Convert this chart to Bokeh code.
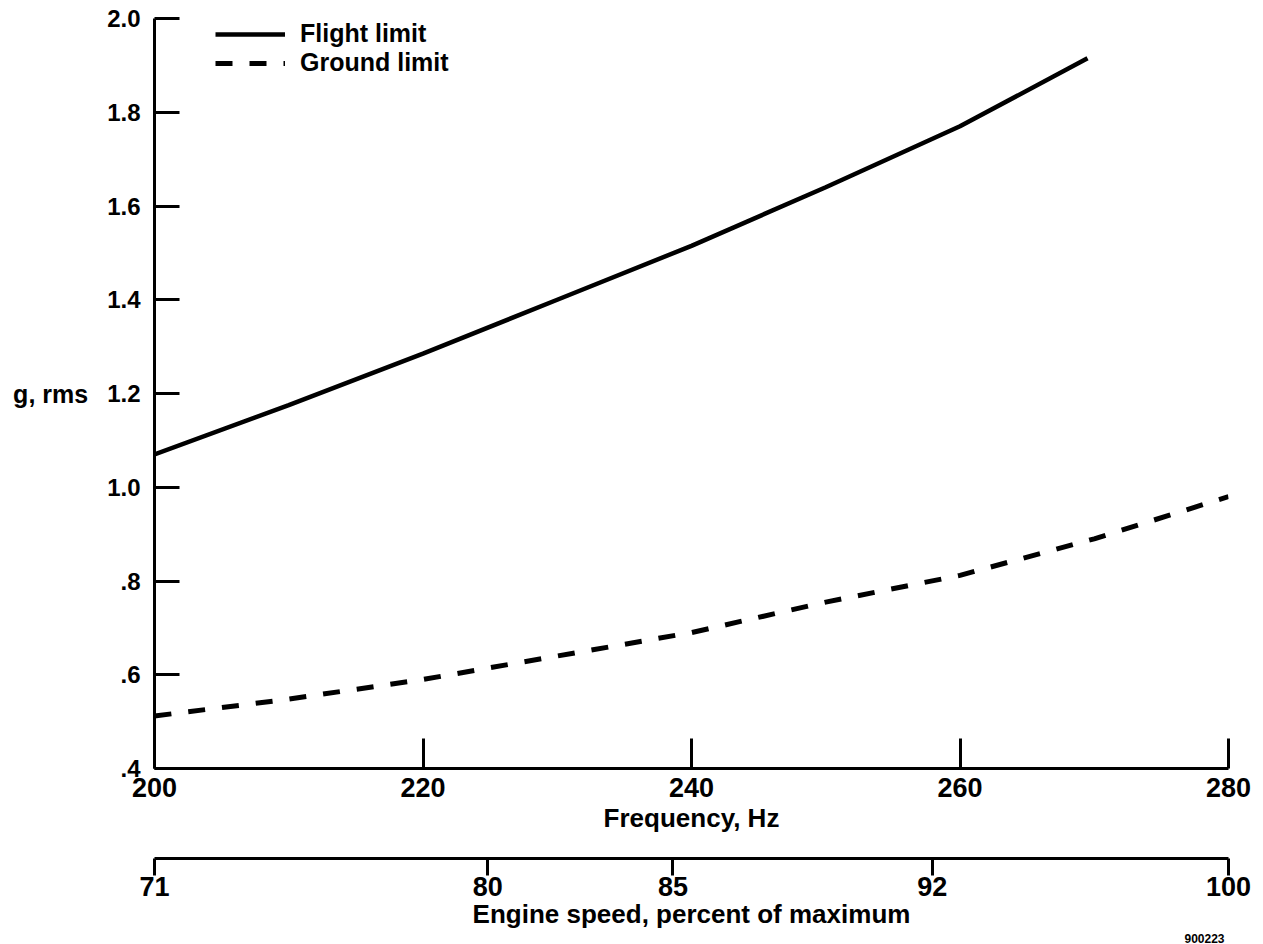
from bokeh.plotting import figure
from bokeh.models import Range1d, LinearAxis, FixedTicker, Legend, LegendItem, Title
from bokeh.embed import file_html
from bokeh.resources import INLINE

# ---- data ----
flight_freq = [200, 210, 220, 230, 240, 250, 260, 269.5]
flight_g = [1.07, 1.175, 1.285, 1.40, 1.515, 1.64, 1.77, 1.915]

ground_freq = [200, 210, 220, 230, 240, 250, 260, 270, 280]
ground_g = [0.512, 0.548, 0.59, 0.64, 0.69, 0.755, 0.812, 0.89, 0.98]

freq_ticks = [200, 220, 240, 260, 280]
g_ticks = [0.4, 0.6, 0.8, 1.0, 1.2, 1.4, 1.6, 1.8, 2.0]
g_tick_labels = [".4", ".6", ".8", "1.0", "1.2", "1.4", "1.6", "1.8", "2.0"]
speed_ticks = [71, 80, 85, 92, 100]
speed_tick_labels = ["71", "80", "85", "92", "100"]

FONT = "Liberation Sans"

p = figure(width=1253, height=944,
           x_range=Range1d(200, 280), y_range=Range1d(0.4, 2.0),
           x_axis_type=None, y_axis_type=None,
           output_backend="svg", toolbar_location=None,
           min_border_left=154, min_border_right=25, min_border_top=18, min_border_bottom=176)
p.extra_x_ranges = {"speed": Range1d(71, 100)}
p.outline_line_color = None
p.background_fill_color = "white"
p.border_fill_color = "white"


def style(ax, tick_size="24px", label_size="26px"):
    ax.axis_line_width = 3
    ax.axis_line_color = "black"
    ax.major_tick_line_width = 3
    ax.major_tick_line_color = "black"
    ax.minor_tick_line_color = None
    ax.major_label_text_font = FONT
    ax.major_label_text_font_style = "bold"
    ax.major_label_text_font_size = tick_size
    ax.major_label_text_color = "black"
    ax.axis_label_text_font = FONT
    ax.axis_label_text_font_style = "bold"
    ax.axis_label_text_font_size = label_size
    ax.axis_label_text_color = "black"


yax = LinearAxis(ticker=FixedTicker(ticks=g_ticks),
                 major_label_overrides=dict(zip(g_ticks, g_tick_labels)),
                 axis_label="g, rms", axis_label_orientation="horizontal",
                 major_tick_in=25, major_tick_out=0,
                 major_label_standoff=14, axis_label_standoff=16)
style(yax, tick_size="24px", label_size="25px")
p.add_layout(yax, "left")

xax = LinearAxis(ticker=FixedTicker(ticks=freq_ticks),
                 axis_label="Frequency, Hz",
                 major_tick_in=30, major_tick_out=0,
                 major_label_standoff=9, axis_label_standoff=3)
style(xax, tick_size="27px", label_size="26px")
p.add_layout(xax, "below")

# empty axis used only as vertical space between the two scales
spacer = LinearAxis(x_range_name="speed", ticker=FixedTicker(ticks=[]),
                    axis_label=" ", axis_label_standoff=0,
                    major_tick_in=0, major_tick_out=0, major_label_standoff=0)
spacer.axis_line_color = None
spacer.major_tick_line_color = None
spacer.minor_tick_line_color = None
spacer.axis_label_text_font = FONT
spacer.axis_label_text_font_size = "18px"
p.add_layout(spacer, "below")

sax = LinearAxis(x_range_name="speed", ticker=FixedTicker(ticks=speed_ticks),
                 major_label_overrides=dict(zip(speed_ticks, speed_tick_labels)),
                 axis_label="Engine speed, percent of maximum",
                 major_tick_in=0, major_tick_out=17,
                 major_label_standoff=1, axis_label_standoff=0)
style(sax, tick_size="27px", label_size="26px")
p.add_layout(sax, "below")

code = Title(text="900223", align="right", standoff=0, offset=4,
             text_font=FONT, text_font_style="bold", text_font_size="12px",
             text_color="black")
p.add_layout(code, "below")

r1 = p.line(flight_freq, flight_g, line_color="black", line_width=4.5)
r2 = p.line(ground_freq, ground_g, line_color="black", line_width=5, line_dash="17 17")

legend = Legend(items=[LegendItem(label="Flight limit", renderers=[r1]),
                       LegendItem(label="Ground limit", renderers=[r2])],
                location=(61, 691), glyph_width=70, glyph_height=26,
                label_standoff=15, spacing=0, padding=0, margin=0,
                border_line_color=None, background_fill_alpha=0,
                label_text_font=FONT, label_text_font_style="bold",
                label_text_font_size="25px", label_text_color="black")
p.add_layout(legend)

open("out.html", "w").write(file_html(p, INLINE))
